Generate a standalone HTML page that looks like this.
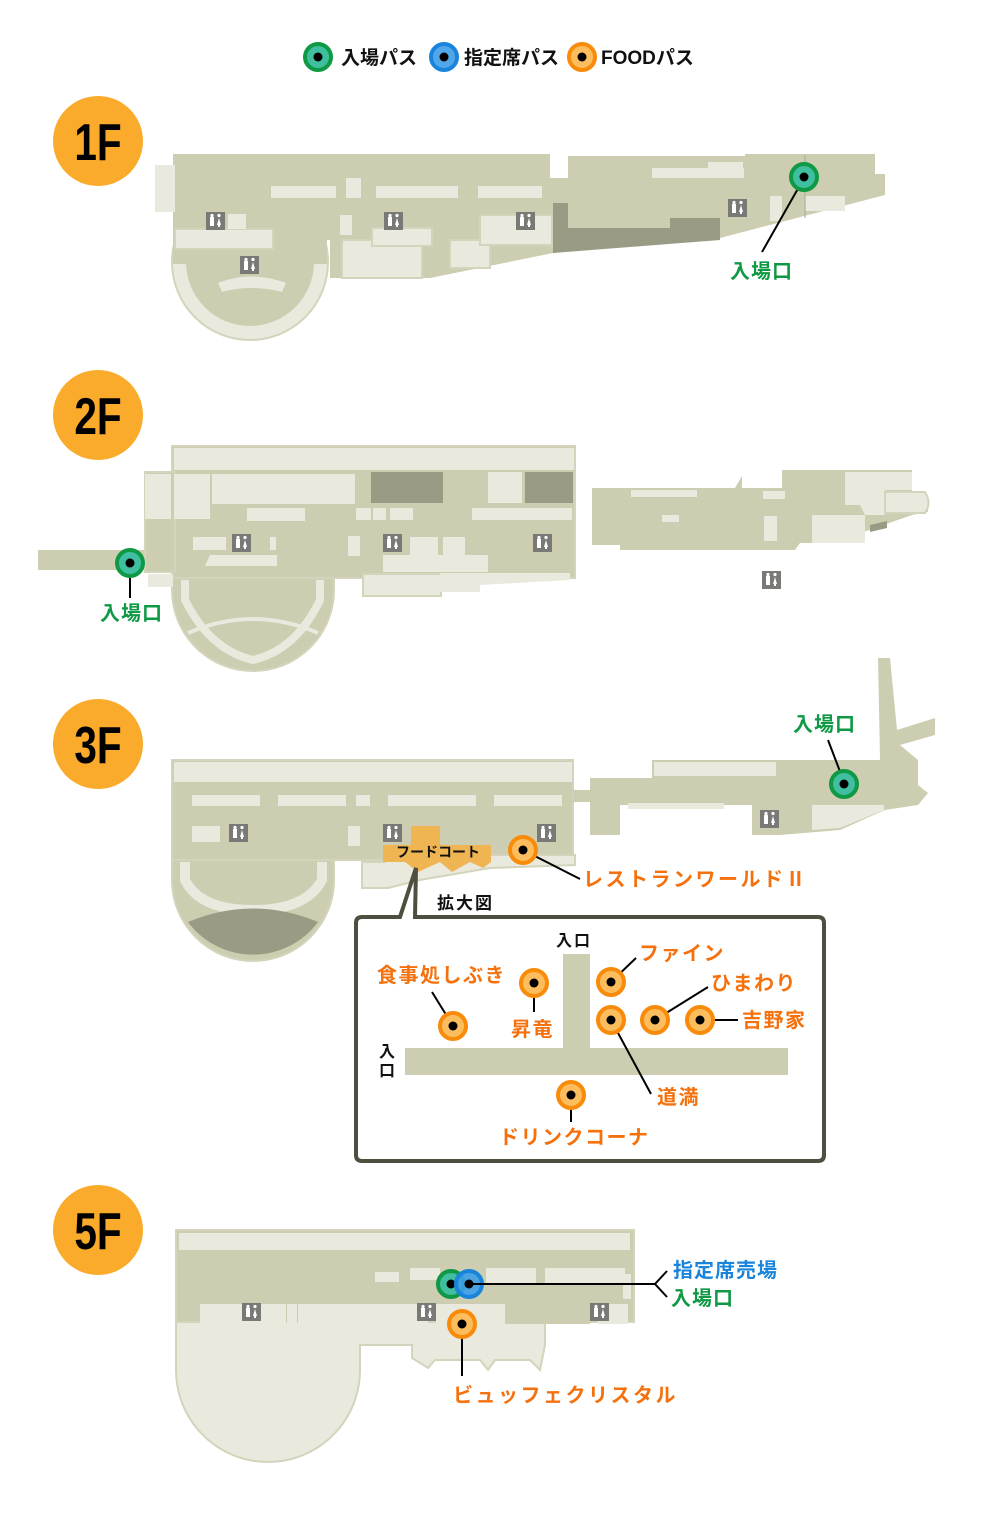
<!DOCTYPE html>
<html><head><meta charset="utf-8"><style>
html,body{margin:0;padding:0;background:#fff}
svg{display:block}
text{font-family:"Liberation Sans","Noto Sans CJK JP",sans-serif;font-weight:bold}
.f{fill:#cdcdb1}.l{fill:#e9e9dd}.d{fill:#9a9b84}
.s{stroke:#d4d4bc;stroke-width:2}
.o{fill:#f4710d;font-size:20px;letter-spacing:1.5px}
.g{fill:#0f9944;font-size:20px;letter-spacing:1px}
.b{fill:#1a84dc;font-size:20px;letter-spacing:1px}
.k{fill:#111;font-size:16px}
</style></head><body>
<svg width="1000" height="1532" viewBox="0 0 1000 1532" xmlns="http://www.w3.org/2000/svg">
<defs>
<g id="wc"><rect x="0" y="0" width="19" height="18" fill="#797975"/><rect x="4" y="5" width="4" height="9" fill="#fff"/><circle cx="6" cy="3.5" r="1.6" fill="#fff"/><path d="M11 13 L13 6 L15 13Z" fill="#fff"/><rect x="12" y="12" width="2" height="3" fill="#fff"/><circle cx="13" cy="3.5" r="1.6" fill="#fff"/></g>
<g id="mg"><circle r="13" fill="#3fbf9f" stroke="#0f9944" stroke-width="4"/><circle r="4.5" fill="#000"/></g>
<g id="mb"><circle r="13" fill="#3d9fe8" fill-opacity="0.9" stroke="#1a84dc" stroke-width="4"/><circle r="4.5" fill="#000"/></g>
<g id="mo"><circle r="13" fill="#fbbd5d" stroke="#f98b0b" stroke-width="4"/><circle r="4.5" fill="#000"/></g>
</defs>

<!-- legend -->
<use href="#mg" x="318" y="57"/><text x="341" y="64" class="k" style="font-size:19px">入場パス</text>
<use href="#mb" x="444" y="57"/><text x="464" y="64" class="k" style="font-size:19px">指定席パス</text>
<use href="#mo" x="582" y="57"/><text x="601" y="64" class="k" style="font-size:19px">FOODパス</text>

<!-- badges -->
<g fill="#fbab2b"><circle cx="98" cy="141" r="45"/><circle cx="98" cy="415" r="45"/><circle cx="98" cy="744" r="45"/><circle cx="98" cy="1230" r="45"/></g>
<g fill="#000" style="font-size:52px" text-anchor="middle">
<text x="98" y="160" transform="translate(98 0) scale(0.78 1) translate(-98 0)">1F</text>
<text x="98" y="434" transform="translate(98 0) scale(0.78 1) translate(-98 0)">2F</text>
<text x="98" y="763" transform="translate(98 0) scale(0.78 1) translate(-98 0)">3F</text>
<text x="98" y="1249" transform="translate(98 0) scale(0.78 1) translate(-98 0)">5F</text>
</g>

<!-- 1F -->
<circle cx="250" cy="262" r="78" class="l s"/>
<circle cx="250" cy="262" r="64" class="f"/>
<rect x="173" y="154" width="154" height="110" class="f"/>
<path d="M173,154 L550,154 L550,178 L568,178 L568,156 L745,156 L745,154 L875,154 L875,174 L885,174 L885,195 L720,238 L553,253 L430,278 L330,278 L330,240 L173,240Z" class="f"/>
<path d="M553,203 L568,203 L568,228 L670,228 L670,218 L720,218 L720,240 L553,253Z" class="d"/>
<rect x="155" y="165" width="20" height="47" class="l"/>
<rect x="271" y="186" width="65" height="12" class="l"/><rect x="346" y="178" width="15" height="20" class="l"/>
<rect x="376" y="186" width="82" height="12" class="l"/><rect x="478" y="186" width="64" height="12" class="l"/>
<rect x="175" y="229" width="98" height="20" class="l s"/><rect x="228" y="214" width="18" height="15" class="l"/>
<rect x="340" y="215" width="12" height="20" class="l"/>
<rect x="342" y="240" width="80" height="38" class="l s"/><rect x="372" y="228" width="60" height="18" class="l s"/>
<rect x="450" y="240" width="40" height="28" class="l s"/><rect x="480" y="215" width="72" height="30" class="l s"/>
<rect x="652" y="168" width="92" height="10" class="l"/><rect x="708" y="162" width="35" height="8" class="l"/>
<rect x="770" y="196" width="12" height="25" class="l"/><rect x="805" y="196" width="40" height="15" class="l"/>
<path d="M218,283 Q250,270 286,283 L282,292 Q250,284 222,292Z" class="l"/>
<line x1="805" y1="155" x2="805" y2="218" stroke="#a9a995" stroke-width="1"/>
<use href="#wc" x="206" y="212"/><use href="#wc" x="384" y="212"/><use href="#wc" x="516" y="212"/><use href="#wc" x="240" y="256"/><use href="#wc" x="728" y="199"/>
<line x1="804" y1="178" x2="762" y2="252" stroke="#000" stroke-width="2"/>
<use href="#mg" x="804" y="177"/>
<text x="730" y="278" class="g">入場口</text>

<!-- 2F -->
<rect x="38" y="550" width="110" height="20" class="f"/>
<path d="M172,578 L172,590 A81,81 0 0 0 334,590 L334,578Z" class="f s"/>
<path d="M185,580 L185,600 Q210,650 253,660 Q296,650 320,600 L320,580" fill="none" stroke="#e9e9dd" stroke-width="8"/>
<path d="M188,633 Q253,605 318,633" fill="none" stroke="#e9e9dd" stroke-width="4"/>
<rect x="172" y="446" width="403" height="132" class="f s"/>
<rect x="145" y="472" width="30" height="100" class="f s"/>
<rect x="174" y="448" width="400" height="22" class="l"/>
<rect x="145" y="474" width="26" height="45" class="l"/><rect x="174" y="474" width="36" height="45" class="l"/>
<rect x="212" y="474" width="143" height="30" class="l"/><rect x="247" y="508" width="58" height="13" class="l"/>
<rect x="371" y="472" width="72" height="31" class="d"/><rect x="488" y="472" width="34" height="31" class="l"/>
<rect x="525" y="472" width="48" height="31" class="d"/>
<rect x="356" y="508" width="15" height="12" class="l"/><rect x="373" y="508" width="13" height="12" class="l"/><rect x="390" y="508" width="23" height="12" class="l"/>
<rect x="472" y="508" width="100" height="12" class="l"/>
<rect x="193" y="537" width="33" height="13" class="l"/><path d="M210,555 L277,555 L277,566 L205,566Z" class="l"/>
<rect x="348" y="536" width="12" height="20" class="l"/><rect x="270" y="537" width="6" height="13" class="l"/>
<rect x="383" y="555" width="105" height="17" class="l"/><rect x="410" y="537" width="28" height="18" class="l"/><rect x="443" y="537" width="22" height="18" class="l"/>
<rect x="363" y="574" width="78" height="22" class="l s"/>
<path d="M440,573 L570,573 L570,580 L480,585 L480,592 L440,592Z" class="l"/>
<rect x="148" y="574" width="25" height="13" class="l"/>
<use href="#wc" x="232" y="534"/><use href="#wc" x="383" y="534"/><use href="#wc" x="533" y="534"/>
<path d="M592,488 L735,488 L742,476 L742,488 L782,488 L782,470 L912,470 L912,493 L928,498 L928,512 L912,515 L832,543 L800,543 L795,550 L620,550 L620,545 L592,545Z" class="f"/>
<path d="M845,472 L912,472 L912,490 L885,490 L885,515 L865,515 L860,505 L845,505Z" class="l"/>
<path d="M885,492 L925,492 Q932,503 925,513 L885,513Z" class="l s"/>
<rect x="812" y="515" width="53" height="28" class="l"/>
<rect x="631" y="490" width="66" height="7" class="l"/><rect x="662" y="515" width="17" height="7" class="l"/>
<rect x="764" y="516" width="13" height="25" class="l"/><rect x="763" y="491" width="22" height="8" class="l"/>
<path d="M870,525 L887,521 L887,528 L870,532Z" class="d"/>
<use href="#wc" x="762" y="571"/>
<line x1="130" y1="563" x2="130" y2="598" stroke="#000" stroke-width="2"/>
<use href="#mg" x="130" y="563"/>
<text x="100" y="620" class="g">入場口</text>

<!-- 3F -->
<path d="M172,860 L172,880 A81,81 0 0 0 334,880 L334,860Z" class="f s"/>
<path d="M185,862 L185,880 Q200,910 253,910 Q306,910 322,880 L322,862" fill="none" stroke="#e9e9dd" stroke-width="10"/>
<path d="M188,922 Q253,895 318,922 A81,81 0 0 1 188,922Z" class="d"/>
<rect x="172" y="760" width="401" height="100" class="f s"/>
<rect x="174" y="762" width="398" height="20" class="l"/>
<rect x="192" y="795" width="68" height="11" class="l"/><rect x="278" y="795" width="68" height="11" class="l"/><rect x="356" y="795" width="14" height="11" class="l"/>
<rect x="388" y="795" width="88" height="11" class="l"/><rect x="494" y="795" width="68" height="11" class="l"/>
<rect x="192" y="826" width="28" height="16" class="l"/><rect x="348" y="826" width="12" height="20" class="l"/>
<path d="M362,862 L385,862 L385,855 L575,855 L575,865 L490,868 L420,880 L388,888 L362,888Z" class="l s"/>
<path d="M411,826 L440,826 L440,845 L491,845 L491,862 L483,868 L470,862 L452,872 L440,862 L418,872 L405,862 L383,862 L383,845 L411,845Z" fill="#efb553"/>
<text x="438" y="857" class="k" style="font-size:14px" text-anchor="middle">フードコート</text>
<use href="#wc" x="229" y="824"/><use href="#wc" x="383" y="824"/><use href="#wc" x="537" y="824"/>
<path d="M590,778 L652,778 L652,760 L880,760 L878,658 L890,658 L897,730 L935,718 L935,735 L900,745 L918,760 L918,785 L928,793 L918,805 L885,810 L840,830 L780,835 L752,835 L752,805 L620,805 L620,835 L590,835Z" class="f"/>
<rect x="573" y="790" width="20" height="12" class="f"/>
<rect x="654" y="762" width="122" height="14" class="l"/><rect x="628" y="803" width="96" height="6" class="l"/>
<path d="M812,805 L884,805 L884,810 L840,828 L812,830Z" class="l"/>
<use href="#wc" x="760" y="810"/>
<line x1="828" y1="740" x2="844" y2="782" stroke="#000" stroke-width="2"/>
<use href="#mg" x="844" y="784"/>
<text x="793" y="731" class="g">入場口</text>
<line x1="523" y1="850" x2="580" y2="879" stroke="#000" stroke-width="2"/>
<use href="#mo" x="523" y="850"/>
<text x="583" y="886" class="o" style="letter-spacing:2.5px">レストランワールドⅡ</text>
<text x="437" y="909" class="k" style="font-size:17px;letter-spacing:2px">拡大図</text>
<!-- callout -->
<path d="M362,917 L400,917 L416,868 L415,917 L818,917 Q824,917 824,923 L824,1155 Q824,1161 818,1161 L362,1161 Q356,1161 356,1155 L356,923 Q356,917 362,917Z" fill="#fff" stroke="#4f4f40" stroke-width="4"/>
<rect x="563" y="954" width="27" height="95" class="f"/>
<rect x="405" y="1048" width="383" height="27" class="f"/>
<text x="556" y="946" class="k" style="letter-spacing:2px">入口</text>
<text x="379" y="1057" class="k">入</text><text x="379" y="1076" class="k">口</text>
<g stroke="#000" stroke-width="2">
<line x1="453" y1="1026" x2="432" y2="992"/><line x1="534" y1="983" x2="534" y2="1012"/>
<line x1="611" y1="982" x2="636" y2="958"/><line x1="655" y1="1020" x2="708" y2="987"/>
<line x1="700" y1="1020" x2="738" y2="1020"/><line x1="611" y1="1020" x2="651" y2="1094"/>
<line x1="571" y1="1095" x2="571" y2="1122"/>
</g>
<use href="#mo" x="453" y="1026"/><use href="#mo" x="534" y="983"/><use href="#mo" x="611" y="982"/><use href="#mo" x="611" y="1020"/>
<use href="#mo" x="655" y="1020"/><use href="#mo" x="700" y="1020"/><use href="#mo" x="571" y="1095"/>
<text x="377" y="982" class="o">食事処しぶき</text>
<text x="511" y="1036" class="o">昇竜</text>
<text x="639" y="960" class="o">ファイン</text>
<text x="711" y="990" class="o">ひまわり</text>
<text x="742" y="1027" class="o">吉野家</text>
<text x="657" y="1104" class="o">道満</text>
<text x="499" y="1144" class="o">ドリンクコーナ</text>

<!-- 5F -->
<path d="M176,1322 L176,1370 A92,92 0 0 0 360,1370 L360,1345 L412,1345 L412,1358 L428,1368 L435,1360 L480,1360 L488,1370 L495,1360 L530,1360 L540,1370 L545,1345 L545,1322Z" class="l s"/>
<rect x="176" y="1230" width="458" height="92" class="f s"/>
<rect x="179" y="1233" width="451" height="17" class="l"/>
<rect x="375" y="1272" width="24" height="10" class="l"/><rect x="410" y="1268" width="30" height="12" class="l"/><rect x="486" y="1268" width="50" height="15" class="l"/><rect x="545" y="1268" width="80" height="15" class="l"/>
<rect x="623" y="1274" width="8" height="25" class="l"/>
<rect x="200" y="1304" width="86" height="20" class="l"/><rect x="287" y="1304" width="10" height="20" class="l"/>
<rect x="298" y="1304" width="78" height="20" class="l"/><rect x="376" y="1304" width="52" height="20" class="l"/>
<rect x="436" y="1304" width="110" height="20" class="l"/><rect x="505" y="1304" width="85" height="20" class="f"/>
<rect x="598" y="1304" width="30" height="20" class="l"/>
<use href="#wc" x="242" y="1303"/><use href="#wc" x="417" y="1303"/><use href="#wc" x="590" y="1303"/>
<use href="#mg" x="451" y="1284"/><use href="#mb" x="469" y="1284"/>
<path d="M470,1284 L655,1284 M667,1271 L655,1284 L667,1297" stroke="#000" stroke-width="2" fill="none"/>
<text x="673" y="1277" class="b">指定席売場</text>
<text x="671" y="1305" class="g">入場口</text>
<line x1="462" y1="1324" x2="462" y2="1376" stroke="#000" stroke-width="2"/>
<use href="#mo" x="462" y="1324"/>
<text x="453" y="1402" class="o" style="letter-spacing:2.5px">ビュッフェクリスタル</text>
</svg>
</body></html>
